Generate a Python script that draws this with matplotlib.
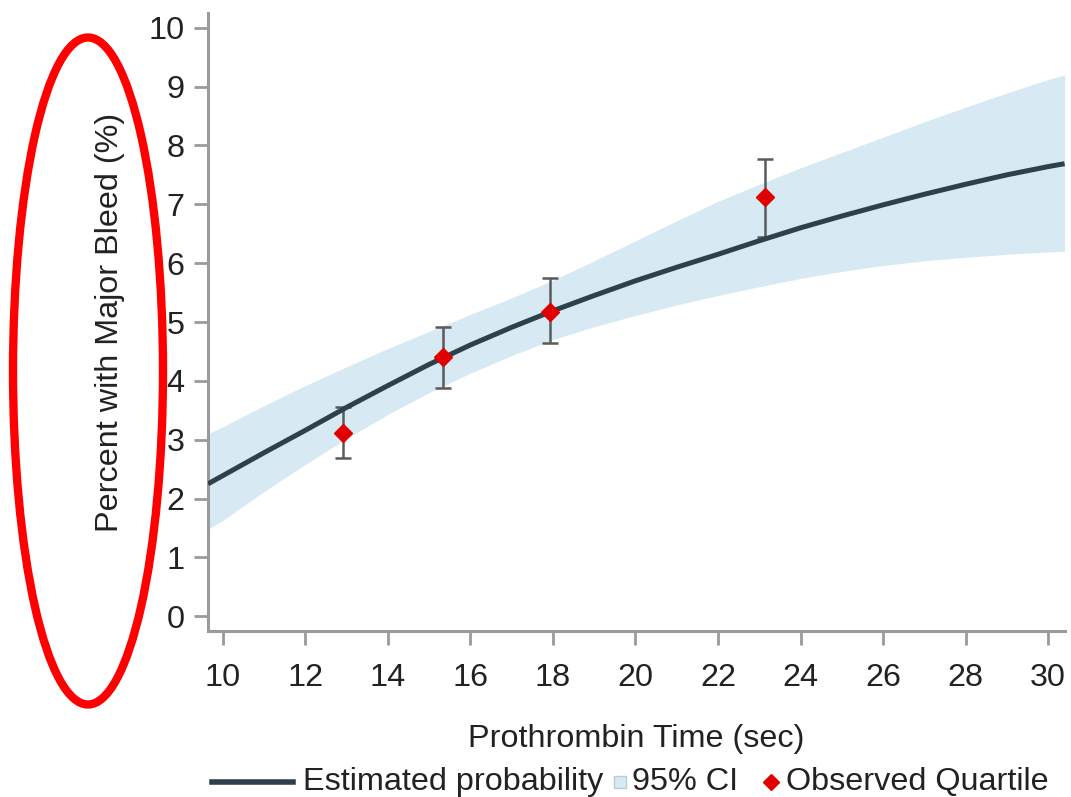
import matplotlib.pyplot as plt
import numpy as np
from matplotlib.lines import Line2D
from matplotlib.patches import Ellipse, Rectangle

plt.rcParams['font.family'] = ['Liberation Sans', 'DejaVu Sans']

# estimated probability curve and 95% CI
pt = [9.64, 10, 11, 12, 13, 14, 15, 16, 17, 18, 19, 20, 21, 22, 23, 24, 25,
      26, 27, 28, 29, 30, 30.4]
est = [2.25, 2.39, 2.78, 3.16, 3.55, 3.92, 4.28, 4.61, 4.91, 5.19, 5.45, 5.70,
       5.93, 6.15, 6.38, 6.60, 6.80, 6.99, 7.17, 7.34, 7.50, 7.64, 7.69]
ci_hi = [3.10, 3.22, 3.58, 3.92, 4.24, 4.55, 4.84, 5.13, 5.41, 5.71, 6.04, 6.38,
         6.72, 7.05, 7.34, 7.62, 7.88, 8.14, 8.40, 8.65, 8.89, 9.12, 9.20]
ci_lo = [1.48, 1.63, 2.12, 2.58, 3.02, 3.43, 3.80, 4.13, 4.43, 4.70, 4.92, 5.11,
         5.29, 5.45, 5.60, 5.74, 5.86, 5.96, 6.04, 6.10, 6.15, 6.19, 6.20]

# observed quartiles
q_x = [12.91, 15.33, 17.94, 23.14]
q_y = [3.11, 4.40, 5.17, 7.13]
q_lo = [2.69, 3.88, 4.64, 6.45]
q_hi = [3.56, 4.92, 5.75, 7.77]

xticks = list(range(10, 31, 2))
yticks = list(range(0, 11))

band_col = '#d7eaf3'
line_col = '#2e414b'
grey = '#9a9a9a'
txt = '#222222'
fs = 23.3

fig = plt.figure(figsize=(10.71, 7.97), dpi=100)
ax = fig.add_axes([208/1071, 1-631/797, (1065-208)/1071, (631-13)/797])

ax.fill_between(pt, ci_lo, ci_hi, color=band_col, lw=0, zorder=1)
ax.plot(pt, est, color=line_col, lw=3.6, solid_capstyle='butt', zorder=3)

q_x = np.array(q_x); q_y = np.array(q_y)
yerr = [q_y - np.array(q_lo), np.array(q_hi) - q_y]
ax.errorbar(q_x, q_y, yerr=yerr, fmt='none', ecolor='#5a5a5a', elinewidth=1.8,
            capsize=6, capthick=1.8, zorder=2)
ax.plot(q_x, q_y, 'D', color='#e00000', ms=9, mec='#e00000', zorder=4)

ax.set_xlim(9.64, 30.41)
ax.set_ylim(-0.25, 10.25)
ax.set_xticks(xticks)
ax.set_yticks(yticks)
for s in ['top', 'right']:
    ax.spines[s].set_visible(False)
for s in ['left', 'bottom']:
    ax.spines[s].set_color(grey)
    ax.spines[s].set_linewidth(2.2)
ax.tick_params(axis='both', colors=grey, length=10, width=2, labelsize=fs,
               labelcolor=txt)
ax.tick_params(axis='y', pad=7)
ax.tick_params(axis='x', pad=13)

ax.set_xlabel('Prothrombin Time (sec)', fontsize=fs, color=txt, labelpad=22)
ax.set_ylabel('Percent with Major Bleed (%)', fontsize=fs, color=txt, labelpad=17)

# legend along the bottom edge
ly = 1 - 782/797
fig.add_artist(Line2D([212/1071, 293/1071], [ly, ly], color=line_col, lw=4,
                      transform=fig.transFigure))
fig.text(303/1071, ly, 'Estimated probability', fontsize=fs, color=txt,
         ha='left', va='center')
fig.add_artist(Rectangle((614/1071, ly - 6/797), 12/1071, 12/797, facecolor=band_col,
                         edgecolor='#b8ccd6', lw=1, transform=fig.transFigure))
fig.text(632/1071, ly, '95% CI', fontsize=fs, color=txt, ha='left', va='center')
fig.add_artist(Line2D([771/1071], [ly], marker='D', ms=8, color='#e00000', lw=0,
                      transform=fig.transFigure))
fig.text(786/1071, ly, 'Observed Quartile', fontsize=fs, color=txt,
         ha='left', va='center')

# red highlight ellipse around the y label
fig.add_artist(Ellipse((88/1071, 1 - 371/797), 150/1071, 667/797, fill=False,
                       edgecolor='#ff0000', lw=6, transform=fig.transFigure))

fig.savefig('out.png', dpi=100)
